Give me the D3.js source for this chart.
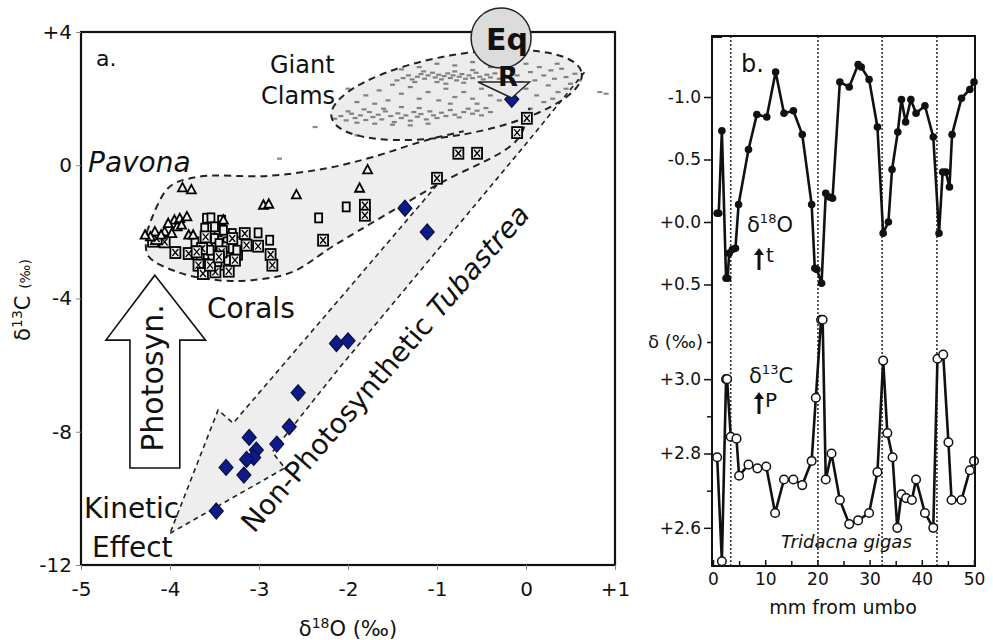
<!DOCTYPE html>
<html><head><meta charset="utf-8">
<script src="https://cdn.jsdelivr.net/npm/d3@7"></script>
<style>body{margin:0;background:#fff} text{font-family:"DejaVu Sans",Verdana,sans-serif;fill:#111}</style>
</head><body><svg id="c" width="993" height="640"></svg>
<script>
// ---------- Panel a data (δ18O, δ13C) ----------
const aXTicks=[-5,-4,-3,-2,-1,0,1], aXLabels=["-5","-4","-3","-2","-1","0","+1"];
const aYTicks=[4,0,-4,-8,-12], aYLabels=["+4","0","-4","-8","-12"];
const tubastrea=[[-0.16,1.98],[-1.36,-1.29],[-1.11,-2.0],[-2.13,-5.35],[-2.0,-5.27],[-2.56,-6.83],[-2.66,-7.85],[-2.80,-8.37],[-3.11,-8.17],[-3.03,-8.55],[-3.06,-8.77],[-3.14,-8.83],[-3.17,-9.30],[-3.37,-9.07],[-3.48,-10.38]];
const pavonaTri=[[-3.86,-0.68],[-3.76,-0.74],[-2.95,-1.2],[-2.89,-1.17],[-2.58,-0.89],[-1.78,-0.14],[-1.87,-0.69],[-4.17,-2.0],[-4.06,-2.0],[-3.95,-1.65],[-3.89,-1.6],[-3.81,-1.55],[-3.79,-2.1],[-3.92,-1.85],[-4.22,-2.15],[-4.02,-1.75],[-3.87,-1.8],[-3.4,-1.65],[-3.74,-2.1],[-3.98,-2.05],[-4.1,-2.1],[-4.28,-2.1]];
const coralSq=[[-2.33,-1.58],[-3.01,-2.03],[-2.88,-2.25],[-2.02,-1.25],[-3.59,-1.59],[-3.54,-1.58],[-3.42,-1.65],[-3.61,-1.89],[-3.46,-2.0],[-3.36,-2.3],[-3.23,-2.3],[-3.31,-2.5],[-3.53,-2.7],[-3.4,-3.0],[-3.66,-2.8],[-3.46,-2.9],[-3.23,-2.7],[-3.49,-2.4],[-3.72,-2.3],[-3.5,-2.2],[-3.38,-2.45],[-3.55,-2.55],[-3.45,-2.35],[-3.35,-2.85],[-3.6,-2.95],[-3.25,-2.55],[-3.5,-1.85],[-3.4,-1.95],[-3.3,-2.05]];
const coralXSq=[[-4.19,-2.28],[-3.94,-2.62],[-3.79,-2.65],[-3.68,-3.0],[-3.63,-3.25],[-3.49,-3.2],[-3.34,-3.18],[-3.27,-2.85],[-3.16,-2.05],[-3.14,-2.4],[-3.01,-2.43],[-2.87,-2.68],[-2.85,-3.0],[-2.28,-2.25],[-1.81,-1.2],[-1.81,-1.5],[-1.0,-0.39],[-0.76,0.36],[-0.55,0.36],[-0.10,0.98],[0.01,1.41],[-3.64,-2.5],[-3.42,-2.6],[-3.55,-3.0],[-4.06,-2.3],[-4.15,-2.2],[-3.6,-2.15],[-3.45,-2.75],[-3.3,-2.2],[-3.7,-2.6]];
const giantClams=[[-1.45,2.55],[-1.38,2.62],[-1.32,2.7],[-1.28,2.58],[-1.22,2.66],[-1.18,2.74],[-1.14,2.6],[-1.1,2.7],[-1.05,2.78],[-1.02,2.64],[-0.98,2.72],[-0.95,2.58],[-0.92,2.68],[-0.88,2.76],[-0.85,2.62],[-0.82,2.7],[-0.78,2.55],[-0.75,2.66],[-0.72,2.74],[-0.68,2.6],[-0.64,2.7],[-0.6,2.62],[-0.56,2.78],[-0.52,2.66],[-0.48,2.58],[-0.44,2.72],[-0.4,2.64],[-0.35,2.76],[-0.3,2.6],[-0.25,2.7],[-1.25,2.5],[-1.0,2.5],[-0.8,2.82],[-1.15,2.82],[-0.6,2.86],[-0.9,2.45],[-0.7,2.48],
[-2.15,1.4],[-2.08,1.48],[-2.02,1.35],[-1.96,1.55],[-1.92,1.42],[-1.86,1.5],[-1.8,1.36],[-1.76,1.6],[-1.72,1.45],[-1.66,1.52],[-1.62,1.38],[-1.58,1.62],[-1.52,1.48],[-1.48,1.3],[-1.44,1.56],[-1.4,1.42],[-1.35,1.5],[-1.3,1.34],[-1.26,1.6],[-1.22,1.46],[-1.18,1.54],[-1.12,1.38],[-1.08,1.62],[-1.04,1.5],[-1.0,1.42],[-0.95,1.58],[-0.9,1.48],[-0.85,1.66],[-0.8,1.52],[-0.75,1.44],[-0.7,1.6],[-0.65,1.7],[-0.6,1.55],[-0.55,1.64],[-0.5,1.5],[-0.45,1.72],[-0.4,1.6],[-1.9,1.28],[-1.7,1.25],[-1.5,1.22],[-1.3,1.2],[-1.1,1.25],[-1.6,1.7],[-1.4,1.75],[-1.2,1.72],[-2.0,1.62],[-1.82,1.68],
[-1.8,2.1],[-1.65,2.25],[-1.55,1.95],[-1.4,2.15],[-1.3,2.35],[-1.2,2.0],[-1.1,2.2],[-0.98,1.95],[-0.9,2.3],[-0.8,2.05],[-0.7,2.2],[-0.6,2.0],[-0.5,2.3],[-0.4,2.1],[-0.3,1.95],[-0.2,2.25],[-1.9,1.9],[-2.0,2.3],[-1.5,2.42],[-0.85,1.85],[-0.55,1.85],[-0.35,2.45],[-1.7,1.85],
[-0.1,2.7],[-0.05,2.5],[0.0,2.3],[0.05,2.8],[0.1,2.55],[0.12,2.1],[0.15,2.95],[0.2,2.7],[0.25,2.4],[0.28,2.85],[0.32,2.6],[0.36,2.2],[0.4,2.9],[0.45,2.65],[0.5,2.45],[0.55,2.75],[0.6,2.55],[0.2,1.9],[0.05,1.7],[0.3,2.0],[-0.15,2.9],[0.0,3.05],[0.35,3.05],[0.45,2.3],
[-1.2,2.95],[-1.0,3.05],[-0.8,3.0],[-0.6,3.1],[-0.4,2.95],[-0.25,3.0],[-1.4,2.88],[-0.5,3.2],
[0.83,2.2],[0.9,2.15],[-2.77,0.2],[-2.37,1.15],[-1.9,0.9]];

// ---------- Panel b data (Tridacna gigas) ----------
const bMm=[0,10,20,30,40,50];
const d18Ticks=[-1.0,-0.5,0.0,0.5], d18Labels=["-1.0","-0.5","+0.0","+0.5"];
const d13Ticks=[3.0,2.8,2.6], d13Labels=["+3.0","+2.8","+2.6"];
const growthBands=[3.4,20.1,32.4,42.9];
const d18O=[[0.8,-0.07],[1.1,-0.07],[1.7,-0.73],[2.5,0.45],[2.8,0.45],[3.1,0.25],[3.7,0.22],[4.3,0.21],[4.9,-0.14],[6.8,-0.58],[8.4,-0.86],[10.3,-0.84],[12.0,-1.2],[13.6,-0.87],[15.4,-0.89],[17.1,-0.70],[18.9,-0.14],[19.5,0.37],[19.9,0.38],[20.8,0.49],[21.6,-0.23],[22.3,-0.2],[22.9,-0.19],[24.3,-1.12],[26.1,-1.08],[27.8,-1.26],[28.4,-1.24],[29.9,-1.14],[31.5,-0.76],[32.6,0.09],[33.6,0.0],[34.3,-0.42],[35.4,-0.72],[36.1,-0.98],[36.9,-0.80],[37.9,-0.98],[38.9,-0.87],[40.6,-0.93],[42.2,-0.68],[43.3,0.09],[44.0,-0.40],[44.6,-0.40],[45.3,-0.28],[45.8,-0.70],[47.6,-0.99],[49.2,-1.06],[50.0,-1.12]];
const d13C=[[0.8,2.79],[1.7,2.51],[2.5,3.0],[2.7,3.0],[3.4,2.845],[4.5,2.84],[5.0,2.74],[6.8,2.77],[8.5,2.76],[10.2,2.765],[11.9,2.64],[13.6,2.73],[15.4,2.73],[17.1,2.715],[18.9,2.78],[19.7,2.95],[20.7,3.16],[21.0,3.16],[21.6,2.73],[22.7,2.80],[24.3,2.675],[26.1,2.61],[27.8,2.62],[29.9,2.64],[31.5,2.75],[32.6,3.05],[33.4,2.855],[34.4,2.79],[35.3,2.60],[36.1,2.69],[37.0,2.68],[38.1,2.675],[38.9,2.73],[40.6,2.64],[42.2,2.60],[43.0,3.055],[44.1,3.066],[45.1,2.83],[45.7,2.675],[47.6,2.675],[49.2,2.755],[50.0,2.78]];

// ---------- annotation shapes (data units of panel a) ----------
const coralRegion=[[-4.26,-2.01],[-4.02,-0.68],[-3.69,-0.35],[-2.90,-0.32],[-2.22,-0.08],[-1.72,0.25],[-1.11,0.76],[-0.63,1.06],[0.04,1.72],[-0.10,0.76],[-1.00,-0.59],[-2.15,-2.40],[-2.63,-3.21],[-3.08,-3.45],[-3.46,-3.45],[-3.91,-3.21],[-4.25,-2.70]];
const arrowRegion=[[-1.00,-0.59],[-0.10,0.76],[0.04,1.72],[0.66,2.80],[-0.01,0.61],[-2.09,-6.06],[-2.85,-8.61],[-2.71,-9.09],[-4.00,-11.05],[-3.46,-7.35],[-3.29,-7.74],[-2.01,-3.75]];
const coralTop=[[-4.26,-2.01],[-4.02,-0.68],[-3.69,-0.35],[-2.90,-0.32],[-2.22,-0.08],[-1.72,0.25],[-1.11,0.76],[-0.70,1.02]];
const coralBottom=[[-4.26,-2.01],[-4.25,-2.70],[-3.91,-3.21],[-3.46,-3.45],[-3.08,-3.45],[-2.63,-3.21],[-2.15,-2.40],[-1.00,-0.59],[-0.10,0.76],[0.04,1.72]];
const arrowLeft=[[-1.00,-0.59],[-2.01,-3.75],[-3.29,-7.74],[-3.46,-7.35],[-4.00,-11.05]];
const arrowRight=[[-4.00,-11.05],[-2.71,-9.09],[-2.85,-8.61],[-2.09,-6.06],[-0.01,0.61],[0.66,2.80]];
const photoArrow=[[-4.17,-3.30],[-3.60,-5.25],[-3.89,-5.25],[-3.89,-9.09],[-4.45,-9.09],[-4.45,-5.25],[-4.72,-5.25]];

const svg=d3.select("#c");
const xA=d3.scaleLinear().domain([-5,1]).range([81,615]);
const yA=d3.scaleLinear().domain([-12,4]).range([565,32]);
const lineA=d3.line().x(d=>xA(d[0])).y(d=>yA(d[1]));

const gA=svg.append("g");
gA.append("path").attr("d",lineA.curve(d3.curveCatmullRomClosed)(coralRegion)).attr("fill","#eeeeee");
gA.append("path").attr("d",d3.line().x(d=>xA(d[0])).y(d=>yA(d[1])).curve(d3.curveLinearClosed)(arrowRegion)).attr("fill","#eeeeee");
const ec=[xA(-0.78),yA(2.11)];
gA.append("ellipse").attr("transform",`translate(${ec[0]},${ec[1]}) rotate(-10)`).attr("rx",127).attr("ry",40).attr("fill","#ececec");
gA.append("g").selectAll("rect").data(giantClams).join("rect")
  .attr("x",d=>xA(d[0])-2.5).attr("y",d=>yA(d[1])-1).attr("width",5).attr("height",2.2)
  .attr("fill","#555").attr("opacity",0.7);
const dash={"fill":"none","stroke":"#222","stroke-width":2,"stroke-dasharray":"7,5"};
function dpath(pts,curve){const p=gA.append("path").attr("d",d3.line().x(d=>xA(d[0])).y(d=>yA(d[1])).curve(curve)(pts));for(const k in dash)p.attr(k,dash[k]);return p;}
dpath(coralTop,d3.curveCatmullRom);
dpath(coralBottom,d3.curveCatmullRom);
dpath(arrowLeft,d3.curveLinear).attr("stroke-width",1.6).attr("stroke-dasharray","5,4");
dpath(arrowRight,d3.curveLinear).attr("stroke-width",1.6).attr("stroke-dasharray","5,4");
const el=gA.append("ellipse").attr("transform",`translate(${ec[0]},${ec[1]}) rotate(-10)`).attr("rx",127).attr("ry",40);
for(const k in dash)el.attr(k,dash[k]);

// coral markers
gA.append("g").selectAll("rect").data(coralSq).join("rect")
  .attr("x",d=>xA(d[0])-3.5).attr("y",d=>yA(d[1])-4.5).attr("width",7).attr("height",9)
  .attr("fill","#eee").attr("stroke","#000").attr("stroke-width",1.8);
const xs=gA.append("g").selectAll("g").data(coralXSq).join("g").attr("transform",d=>`translate(${xA(d[0])},${yA(d[1])})`);
xs.append("rect").attr("x",-5).attr("y",-5.5).attr("width",10).attr("height",11).attr("fill","#eee").attr("stroke","#000").attr("stroke-width",1.8);
xs.append("path").attr("d","M-3,-3.5L3,3.5M3,-3.5L-3,3.5").attr("stroke","#000").attr("stroke-width",1.3);
gA.append("g").selectAll("path").data(pavonaTri).join("path")
  .attr("d",d=>{const x=xA(d[0]),y=yA(d[1]);return `M${x},${y-5}L${x+4.5},${y+3.5}L${x-4.5},${y+3.5}Z`;})
  .attr("fill","#f4f4f4").attr("stroke","#000").attr("stroke-width",1.8);
gA.append("g").selectAll("path").data(tubastrea).join("path")
  .attr("d",d=>{const x=xA(d[0]),y=yA(d[1]);return `M${x},${y-8}L${x+7},${y}L${x},${y+8}L${x-7},${y}Z`;})
  .attr("fill","#0c1a8a").attr("stroke","#0a0f40").attr("stroke-width",1.2);

// Photosyn arrow
gA.append("path").attr("d",d3.line().x(d=>xA(d[0])).y(d=>yA(d[1])).curve(d3.curveLinearClosed)(photoArrow))
  .attr("fill","#fff").attr("stroke","#111").attr("stroke-width",1.6);
gA.append("text").attr("transform","translate(163,378) rotate(-90)").attr("text-anchor","middle").attr("font-size",30).text("Photosyn.");

// frame + axes a
svg.append("rect").attr("x",81).attr("y",32).attr("width",534).attr("height",533).attr("fill","none").attr("stroke","#111").attr("stroke-width",2.2);
const axL=svg.append("g").attr("transform","translate(81,0)").call(d3.axisLeft(yA).tickValues(aYTicks).tickFormat((d,i)=>aYLabels[i]).tickSize(5).tickPadding(4));
const axB=svg.append("g").attr("transform","translate(0,565)").call(d3.axisBottom(xA).tickValues(aXTicks).tickFormat((d,i)=>aXLabels[i]).tickSize(5).tickPadding(12));
[axL,axB].forEach(a=>{a.select(".domain").remove();a.selectAll("line").attr("stroke","#888");a.selectAll("text").attr("font-size",20).attr("fill","#111").style("font-family","DejaVu Sans");});

// Eq circle
const eq=[xA(-0.28),yA(3.82)];
svg.append("circle").attr("cx",eq[0]).attr("cy",eq[1]).attr("r",30).attr("fill","#dcdcdc").attr("stroke","#222").attr("stroke-width",1.5);
svg.append("text").attr("x",eq[0]+6).attr("y",50).attr("text-anchor","middle").attr("font-size",30).attr("font-weight","bold").text("Eq");
svg.append("path").attr("d",lineA.curve(d3.curveLinearClosed)([[-0.54,2.50],[0.04,2.50],[-0.16,2.02]])).attr("fill","#e8e8e8").attr("stroke","#222").attr("stroke-width",1.5);
svg.append("text").attr("x",eq[0]+7).attr("y",86).attr("text-anchor","middle").attr("font-size",26).attr("font-weight","bold").text("R");

// texts panel a
const T=(x,y,s,fs,o={})=>{const t=svg.append("text").attr("x",x).attr("y",y).attr("font-size",fs).text(s);for(const k in o)t.attr(k,o[k]);return t;};
T(96,66,"a.",22);
T(270,73,"Giant",24);
T(261,104,"Clams",24);
T(88,172,"Pavona",28,{"font-style":"italic"});
T(207,318,"Corals",28);
T(84,518,"Kinetic",28);
T(92,557,"Effect",28);
const np=svg.append("text").attr("transform","translate(254,534) rotate(-49)").attr("font-size",28);
np.append("tspan").text("Non-Photosynthetic ");
np.append("tspan").attr("font-style","italic").text("Tubastrea");
const yl=svg.append("text").attr("transform","translate(30,300) rotate(-90)").attr("text-anchor","middle").attr("font-size",21);
yl.append("tspan").text("δ");yl.append("tspan").attr("font-size",14).attr("dy",-8).text("13");
yl.append("tspan").attr("dy",8).text("C ");yl.append("tspan").attr("font-size",14).text("(‰)");
const xl=svg.append("text").attr("x",348).attr("y",636).attr("text-anchor","middle").attr("font-size",21);
xl.append("tspan").text("δ");xl.append("tspan").attr("font-size",14).attr("dy",-8).text("18");
xl.append("tspan").attr("dy",8).text("O (‰)");

// ---------- Panel b ----------
const xB=d3.scaleLinear().domain([0,50]).range([713,974]);
const yO=d3.scaleLinear().domain([-1.5,0.5]).range([34.5,284.5]);
const yC=d3.scaleLinear().domain([2.5,3.1]).range([565,342]);
const gB=svg.append("g");
gB.selectAll("line.band").data(growthBands).join("line").attr("class","band")
  .attr("x1",d=>xB(d)).attr("x2",d=>xB(d)).attr("y1",36).attr("y2",566)
  .attr("stroke","#333").attr("stroke-width",1.6).attr("stroke-dasharray","2,2");
gB.append("path").attr("d",d3.line().x(d=>xB(d[0])).y(d=>yO(d[1]))(d18O)).attr("fill","none").attr("stroke","#111").attr("stroke-width",2.6);
gB.selectAll("circle.o").data(d18O).join("circle").attr("class","o").attr("cx",d=>xB(d[0])).attr("cy",d=>yO(d[1])).attr("r",3.8).attr("fill","#111");
gB.append("path").attr("d",d3.line().x(d=>xB(d[0])).y(d=>yC(d[1]))(d13C)).attr("fill","none").attr("stroke","#111").attr("stroke-width",2.6);
gB.selectAll("circle.c").data(d13C).join("circle").attr("class","c").attr("cx",d=>xB(d[0])).attr("cy",d=>yC(d[1])).attr("r",4.3).attr("fill","#fff").attr("stroke","#111").attr("stroke-width",1.5);
svg.append("rect").attr("x",712).attr("y",36).attr("width",263).attr("height",530).attr("fill","none").attr("stroke","#111").attr("stroke-width",2);
const bL1=svg.append("g").attr("transform","translate(712,0)").call(d3.axisLeft(yO).tickValues(d18Ticks).tickFormat((d,i)=>d18Labels[i]).tickSize(8).tickPadding(3));
const bL2=svg.append("g").attr("transform","translate(712,0)").call(d3.axisLeft(yC).tickValues(d13Ticks).tickFormat((d,i)=>d13Labels[i]).tickSize(8).tickPadding(3));
const bL3=svg.append("g").attr("transform","translate(712,0)").call(d3.axisLeft(yC).tickValues([3.1,2.9,2.7]).tickFormat((d,i)=>i===0?"δ (‰)":"").tickSize(5).tickPadding(4));
const bB=svg.append("g").attr("transform","translate(0,566)").call(d3.axisBottom(xB).tickValues(bMm).tickFormat(d=>d).tickSize(4).tickPadding(3));
const bB2=svg.append("g").attr("transform","translate(0,566)").call(d3.axisBottom(xB).tickValues([5,15,25,35,45]).tickFormat("").tickSize(-5));
bB.selectAll(".tick line").attr("y2",-6);
[bL1,bL2,bL3,bB,bB2].forEach(a=>{a.select(".domain").remove();a.selectAll("line").attr("stroke","#111").attr("stroke-width",1.5);a.selectAll("text").attr("font-size",17).attr("fill","#111").style("font-family","DejaVu Sans");});
bL3.selectAll("text").attr("font-size",18);
svg.append("line").attr("x1",712).attr("x2",722).attr("y1",37).attr("y2",37).attr("stroke","#111").attr("stroke-width",2);
T(741,72,"b.",24);
const o18=svg.append("text").attr("x",747).attr("y",232).attr("font-size",21);
o18.append("tspan").text("δ");o18.append("tspan").attr("font-size",13).attr("dy",-9).text("18");o18.append("tspan").attr("dy",9).text("O");
const c13=svg.append("text").attr("x",749).attr("y",383).attr("font-size",21);
c13.append("tspan").text("δ");c13.append("tspan").attr("font-size",13).attr("dy",-9).text("13");c13.append("tspan").attr("dy",9).text("C");
const arrowUp=(x,y1,y2)=>{svg.append("line").attr("x1",x).attr("x2",x).attr("y1",y1).attr("y2",y2+5).attr("stroke","#111").attr("stroke-width",3);
  svg.append("path").attr("d",`M${x-5},${y2+7}L${x},${y2}L${x+5},${y2+7}Z`).attr("fill","#111");};
arrowUp(759,270,248); T(766,262,"t",20);
arrowUp(759,414,392); T(765,407,"P",20);
T(781,548,"Tridacna gigas",18,{"font-style":"italic"});
T(843,614,"mm from umbo",19,{"text-anchor":"middle"});
</script></body></html>
